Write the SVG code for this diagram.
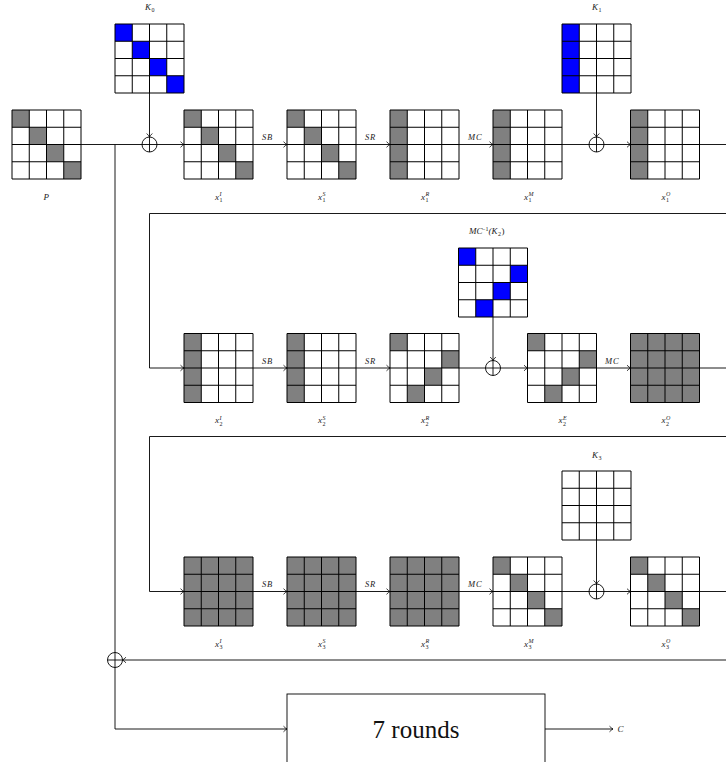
<svg xmlns="http://www.w3.org/2000/svg" xmlns:xlink="http://www.w3.org/1999/xlink" width="726" height="762" viewBox="0 0 726 762">
<style>
.ln{fill:none;stroke:#000;stroke-width:0.9}
.arr{marker-end:url(#ah)}
.xo{fill:none;stroke:#000;stroke-width:0.9}
.g{fill:#808080}
.b{fill:#0000ff}
.bg{fill:#fff}
.grid{fill:none;stroke:#000;stroke-width:1}
text{font-family:"Liberation Serif","DejaVu Serif",serif;font-style:italic;fill:#222}
.v{font-size:9px}
.s{font-size:6px;font-style:normal}
.si{font-size:6px}
.op{font-size:8.5px;letter-spacing:0.8px}
.big{font-size:25px;font-style:normal;fill:#111}
</style>
<defs>
<marker id="ah" markerUnits="userSpaceOnUse" markerWidth="8" markerHeight="8" viewBox="-5 -4 6 8" refX="0" refY="0" orient="auto">
<path d="M-3.5,-2.8 Q-1.4,-0.7 0,0 Q-1.4,0.7 -3.5,2.8" fill="none" stroke="#000" stroke-width="0.8"/>
</marker>
<path id="grid" class="grid" d="M0,0H69V69H0Z M17.25,0V69 M34.5,0V69 M51.75,0V69 M0,17.25H69 M0,34.5H69 M0,51.75H69"/>
<rect id="c" width="17.25" height="17.25"/>
<g id="diag" class="g"><use href="#c"/><use href="#c" x="17.25" y="17.25"/><use href="#c" x="34.5" y="34.5"/><use href="#c" x="51.75" y="51.75"/></g>
<g id="diagb" class="b"><use href="#c"/><use href="#c" x="17.25" y="17.25"/><use href="#c" x="34.5" y="34.5"/><use href="#c" x="51.75" y="51.75"/></g>
<rect id="col0" width="17.25" height="69"/>
<g id="anti" class="g"><use href="#c"/><use href="#c" x="51.75" y="17.25"/><use href="#c" x="34.5" y="34.5"/><use href="#c" x="17.25" y="51.75"/></g>
<g id="antib" class="b"><use href="#c"/><use href="#c" x="51.75" y="17.25"/><use href="#c" x="34.5" y="34.5"/><use href="#c" x="17.25" y="51.75"/></g>
<rect id="full" width="69" height="69"/>
</defs>
<rect width="726" height="762" fill="#fff"/>

<g id="connectors">
<!-- row 1 -->
<path class="ln arr" d="M81,144.5H184"/>
<path class="ln" d="M115,144.5V729"/>
<path class="ln arr" d="M115,729H287"/>
<path class="ln arr" d="M149.5,93V137"/>
<path class="ln arr" d="M253,144.5H287"/>
<path class="ln arr" d="M356,144.5H390"/>
<path class="ln arr" d="M459,144.5H493"/>
<path class="ln arr" d="M562,144.5H630.5"/>
<path class="ln arr" d="M596.5,93V137"/>
<path class="ln" d="M699.5,144.5H726"/>
<!-- row 2 -->
<path class="ln arr" d="M726,213.5H149.5V368H184"/>
<path class="ln arr" d="M253,368H287"/>
<path class="ln arr" d="M356,368H390"/>
<path class="ln arr" d="M459,368H527.5"/>
<path class="ln arr" d="M493,317V360.5"/>
<path class="ln arr" d="M596.5,368H630.5"/>
<path class="ln" d="M699.5,368H726"/>
<!-- row 3 -->
<path class="ln arr" d="M726,436.5H149.5V591.5H184"/>
<path class="ln arr" d="M253,591.5H287"/>
<path class="ln arr" d="M356,591.5H390"/>
<path class="ln arr" d="M459,591.5H493"/>
<path class="ln arr" d="M562,591.5H630.5"/>
<path class="ln arr" d="M596.5,540V584"/>
<path class="ln" d="M699.5,591.5H726"/>
<!-- feedback -->
<path class="ln arr" d="M726,660H122.5"/>
<!-- output -->
<path class="ln arr" d="M545,729H613"/>
<text class="op" x="262" y="140">SB</text>
<text class="op" x="365" y="140">SR</text>
<text class="op" x="468" y="140">MC</text>
<text class="op" x="262" y="363.5">SB</text>
<text class="op" x="365" y="363.5">SR</text>
<text class="op" x="605" y="363.5">MC</text>
<text class="op" x="262" y="587">SB</text>
<text class="op" x="365" y="587">SR</text>
<text class="op" x="468" y="587">MC</text>
</g>

<g id="xor0"><circle class="xo" cx="149.5" cy="144.5" r="7.5"/><path class="ln" d="M149.5,137V152"/></g>
<g id="xor1"><circle class="xo" cx="596.5" cy="144.5" r="7.5"/><path class="ln" d="M596.5,137V152"/></g>
<g id="xor2"><circle class="xo" cx="493" cy="368" r="7.5"/><path class="ln" d="M493,360.5V375.5"/></g>
<g id="xor3"><circle class="xo" cx="596.5" cy="591.5" r="7.5"/><path class="ln" d="M596.5,584V599"/></g>
<g id="xorF"><circle class="xo" cx="115" cy="660" r="7.5"/><path class="ln" d="M107.5,660H122.5"/></g>

<g id="P"><g transform="translate(12,110)"><use href="#full" class="bg"/><use href="#diag"/><use href="#grid"/></g>
<text class="v" x="43.5" y="199.5">P</text></g>

<g id="K0"><g transform="translate(115,24)"><use href="#full" class="bg"/><use href="#diagb"/><use href="#grid"/></g>
<text><tspan class="v" x="145" y="10">K</tspan><tspan class="s" x="151.5" y="12">0</tspan></text></g>

<g id="x1I"><g transform="translate(184,110)"><use href="#full" class="bg"/><use href="#diag"/><use href="#grid"/></g>
<text><tspan class="v" x="215" y="199.5">x</tspan><tspan class="si" x="219.5" y="196">I</tspan><tspan class="s" x="219.5" y="202">1</tspan></text></g>

<g id="x1S"><g transform="translate(287,110)"><use href="#full" class="bg"/><use href="#diag"/><use href="#grid"/></g>
<text><tspan class="v" x="318" y="199.5">x</tspan><tspan class="si" x="322.5" y="196">S</tspan><tspan class="s" x="322.5" y="202">1</tspan></text></g>

<g id="x1R"><g transform="translate(390,110)"><use href="#full" class="bg"/><use href="#col0" class="g"/><use href="#grid"/></g>
<text><tspan class="v" x="421" y="199.5">x</tspan><tspan class="si" x="425.5" y="196">R</tspan><tspan class="s" x="425.5" y="202">1</tspan></text></g>

<g id="x1M"><g transform="translate(493,110)"><use href="#full" class="bg"/><use href="#col0" class="g"/><use href="#grid"/></g>
<text><tspan class="v" x="524" y="199.5">x</tspan><tspan class="si" x="528.5" y="196">M</tspan><tspan class="s" x="528.5" y="202">1</tspan></text></g>

<g id="K1"><g transform="translate(562,24)"><use href="#full" class="bg"/><use href="#col0" class="b"/><use href="#grid"/></g>
<text><tspan class="v" x="592" y="10">K</tspan><tspan class="s" x="598.5" y="12">1</tspan></text></g>

<g id="x1O"><g transform="translate(630.5,110)"><use href="#full" class="bg"/><use href="#col0" class="g"/><use href="#grid"/></g>
<text><tspan class="v" x="661.5" y="199.5">x</tspan><tspan class="si" x="666" y="196">O</tspan><tspan class="s" x="666" y="202">1</tspan></text></g>

<g id="x2I"><g transform="translate(184,333.5)"><use href="#full" class="bg"/><use href="#col0" class="g"/><use href="#grid"/></g>
<text><tspan class="v" x="215" y="423">x</tspan><tspan class="si" x="219.5" y="419.5">I</tspan><tspan class="s" x="219.5" y="425.5">2</tspan></text></g>

<g id="x2S"><g transform="translate(287,333.5)"><use href="#full" class="bg"/><use href="#col0" class="g"/><use href="#grid"/></g>
<text><tspan class="v" x="318" y="423">x</tspan><tspan class="si" x="322.5" y="419.5">S</tspan><tspan class="s" x="322.5" y="425.5">2</tspan></text></g>

<g id="x2R"><g transform="translate(390,333.5)"><use href="#full" class="bg"/><use href="#anti"/><use href="#grid"/></g>
<text><tspan class="v" x="421" y="423">x</tspan><tspan class="si" x="425.5" y="419.5">R</tspan><tspan class="s" x="425.5" y="425.5">2</tspan></text></g>

<g id="MCK2"><g transform="translate(458.5,248)"><use href="#full" class="bg"/><use href="#antib"/><use href="#grid"/></g>
<text><tspan class="v" x="469" y="234">MC</tspan><tspan class="s" x="482" y="230.5">−1</tspan><tspan class="v" x="488.5" y="234">(K</tspan><tspan class="s" x="498" y="236">2</tspan><tspan class="v" x="501.5" y="234" style="font-style:normal">)</tspan></text></g>

<g id="x2E"><g transform="translate(527.5,333.5)"><use href="#full" class="bg"/><use href="#anti"/><use href="#grid"/></g>
<text><tspan class="v" x="558.5" y="423">x</tspan><tspan class="si" x="563" y="419.5">E</tspan><tspan class="s" x="563" y="425.5">2</tspan></text></g>

<g id="x2O"><g transform="translate(630.5,333.5)"><use href="#full" class="g"/><use href="#grid"/></g>
<text><tspan class="v" x="661.5" y="423">x</tspan><tspan class="si" x="666" y="419.5">O</tspan><tspan class="s" x="666" y="425.5">2</tspan></text></g>

<g id="x3I"><g transform="translate(184,557)"><use href="#full" class="g"/><use href="#grid"/></g>
<text><tspan class="v" x="215" y="646.5">x</tspan><tspan class="si" x="219.5" y="643">I</tspan><tspan class="s" x="219.5" y="649">3</tspan></text></g>

<g id="x3S"><g transform="translate(287,557)"><use href="#full" class="g"/><use href="#grid"/></g>
<text><tspan class="v" x="318" y="646.5">x</tspan><tspan class="si" x="322.5" y="643">S</tspan><tspan class="s" x="322.5" y="649">3</tspan></text></g>

<g id="x3R"><g transform="translate(390,557)"><use href="#full" class="g"/><use href="#grid"/></g>
<text><tspan class="v" x="421" y="646.5">x</tspan><tspan class="si" x="425.5" y="643">R</tspan><tspan class="s" x="425.5" y="649">3</tspan></text></g>

<g id="x3M"><g transform="translate(493,557)"><use href="#full" class="bg"/><use href="#diag"/><use href="#grid"/></g>
<text><tspan class="v" x="524" y="646.5">x</tspan><tspan class="si" x="528.5" y="643">M</tspan><tspan class="s" x="528.5" y="649">3</tspan></text></g>

<g id="K3"><g transform="translate(562,471)"><use href="#full" class="bg"/><use href="#grid"/></g>
<text><tspan class="v" x="592" y="457.5">K</tspan><tspan class="s" x="598.5" y="459.5">3</tspan></text></g>

<g id="x3O"><g transform="translate(630.5,557)"><use href="#full" class="bg"/><use href="#diag"/><use href="#grid"/></g>
<text><tspan class="v" x="661.5" y="646.5">x</tspan><tspan class="si" x="666" y="643">O</tspan><tspan class="s" x="666" y="649">3</tspan></text></g>

<g id="rounds"><rect x="287" y="694" width="258" height="90" fill="#fff" stroke="#000" stroke-width="0.9"/>
<text class="big" x="416" y="738" text-anchor="middle">7 rounds</text></g>

<g id="C"><text class="v" x="617.5" y="732">C</text></g>
</svg>
